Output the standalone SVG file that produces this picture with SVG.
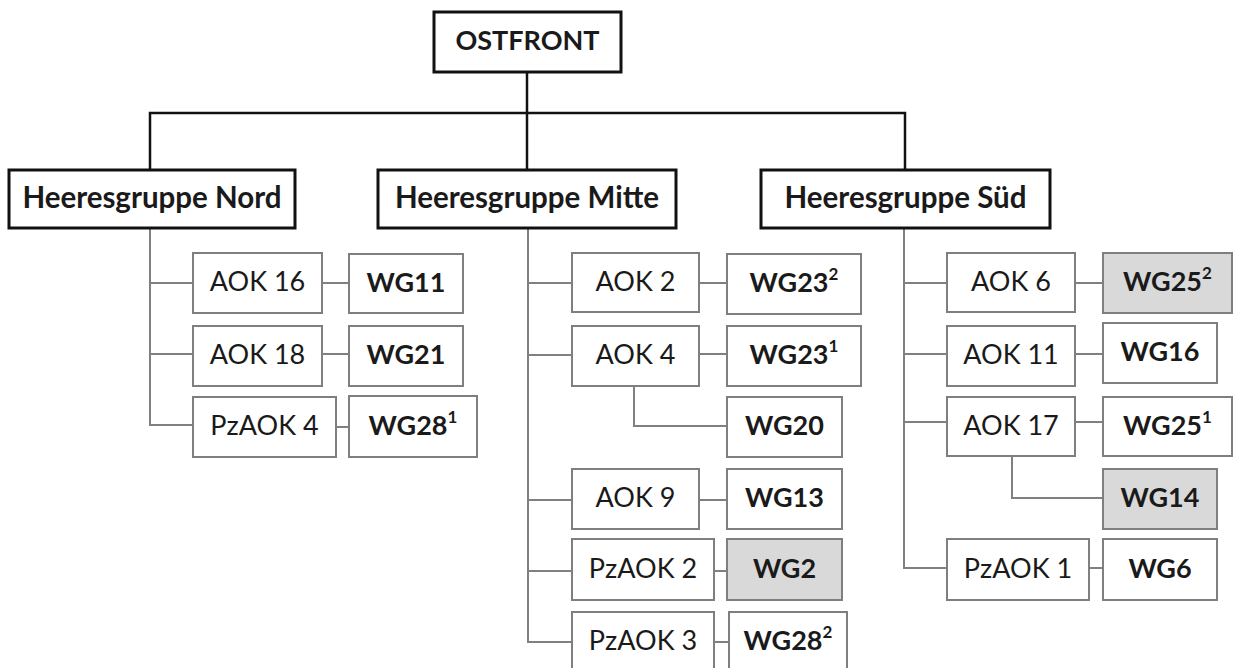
<svg xmlns="http://www.w3.org/2000/svg" width="1236" height="668" viewBox="0 0 1236 668">
<style>
text{font-family:Lato,"Open Sans","Liberation Sans",sans-serif;font-size:27px;fill:#1a1a1a;text-anchor:middle}
.b{font-weight:bold}
.hd{font-size:29.5px}
.h{fill:#fff;stroke:#111;stroke-width:3}
.s{fill:#fff;stroke:#7f7f7f;stroke-width:2}
.g{fill:#d9d9d9;stroke:#7f7f7f;stroke-width:2}
.top{fill:none;stroke:#111;stroke-width:2.5}
.sub{fill:none;stroke:#808080;stroke-width:2}
.sup{font-size:17px}
</style>
<rect width="1236" height="668" fill="#fff"/>
<g id="connectors">
<path class="top" d="M527,72V170M150,170V113H905V170"/>
<path class="sub" d="M150,228V425H193M150,283H193M150,354H193M322,283H349M322,354H349M336,427H349"/>
<path class="sub" d="M528,228V642H572M528,283H572M528,355H572M528,500H572M528,571H572M699,283H727M699,354H727M634,386V426H727M699,500H727M714,571H727M714,642H729"/>
<path class="sub" d="M904,228V568H947M904,283H947M904,354H947M904,422H947M1075,283H1103M1075,354H1103M1075,422H1103M1012,456V498H1103M1089,568H1103"/>
</g>
<g id="ostfront"><rect class="h" x="434" y="12" width="187" height="60"/><text class="b" x="527.5" y="50">OSTFRONT</text></g>
<g id="hg-nord"><rect class="h" x="9" y="170" width="286" height="58"/><text class="b hd" x="152" y="208">Heeresgruppe Nord</text></g>
<g id="hg-mitte"><rect class="h" x="378" y="170" width="298" height="58"/><text class="b hd" x="527" y="208">Heeresgruppe Mitte</text></g>
<g id="hg-sued"><rect class="h" x="761" y="170" width="289" height="58"/><text class="b hd" x="905.5" y="208">Heeresgruppe Süd</text></g>

<g id="aok16"><rect class="s" x="193" y="253" width="129" height="60"/><text x="257.5" y="291">AOK 16</text></g>
<g id="wg11"><rect class="s" x="349" y="254" width="114" height="59"/><text class="b" x="406" y="292">WG11</text></g>
<g id="aok18"><rect class="s" x="193" y="326" width="129" height="60"/><text x="257.5" y="364">AOK 18</text></g>
<g id="wg21"><rect class="s" x="349" y="326" width="114" height="60"/><text class="b" x="406" y="364">WG21</text></g>
<g id="pzaok4"><rect class="s" x="193" y="397" width="143" height="60"/><text x="264.5" y="435">PzAOK 4</text></g>
<g id="wg28-1"><rect class="s" x="349" y="396" width="128" height="61"/><text class="b" x="413" y="435">WG28<tspan class="sup" dy="-12">1</tspan></text></g>

<g id="aok2"><rect class="s" x="572" y="253" width="127" height="59"/><text x="635.5" y="291">AOK 2</text></g>
<g id="wg23-2"><rect class="s" x="727" y="254" width="134" height="60"/><text class="b" x="794" y="292">WG23<tspan class="sup" dy="-12">2</tspan></text></g>
<g id="aok4"><rect class="s" x="572" y="326" width="127" height="60"/><text x="635.5" y="364">AOK 4</text></g>
<g id="wg23-1"><rect class="s" x="727" y="326" width="134" height="60"/><text class="b" x="794" y="364">WG23<tspan class="sup" dy="-12">1</tspan></text></g>
<g id="wg20"><rect class="s" x="727" y="397" width="115" height="60"/><text class="b" x="784.5" y="435">WG20</text></g>
<g id="aok9"><rect class="s" x="572" y="469" width="127" height="60"/><text x="635.5" y="507">AOK 9</text></g>
<g id="wg13"><rect class="s" x="727" y="469" width="115" height="60"/><text class="b" x="784.5" y="507">WG13</text></g>
<g id="pzaok2"><rect class="s" x="572" y="539" width="142" height="61"/><text x="643" y="578">PzAOK 2</text></g>
<g id="wg2"><rect class="g" x="727" y="539" width="115" height="61"/><text class="b" x="784.5" y="578">WG2</text></g>
<g id="pzaok3"><rect class="s" x="572" y="612" width="142" height="62"/><text x="643" y="650">PzAOK 3</text></g>
<g id="wg28-2"><rect class="s" x="729" y="612" width="118" height="62"/><text class="b" x="788" y="650">WG28<tspan class="sup" dy="-12">2</tspan></text></g>

<g id="aok6"><rect class="s" x="947" y="253" width="128" height="59"/><text x="1011" y="291">AOK 6</text></g>
<g id="wg25-2"><rect class="g" x="1103" y="253" width="129" height="60"/><text class="b" x="1167.5" y="291">WG25<tspan class="sup" dy="-12">2</tspan></text></g>
<g id="aok11"><rect class="s" x="947" y="326" width="128" height="60"/><text x="1011" y="364">AOK 11</text></g>
<g id="wg16"><rect class="s" x="1103" y="323" width="114" height="60"/><text class="b" x="1160" y="361">WG16</text></g>
<g id="aok17"><rect class="s" x="947" y="397" width="128" height="59"/><text x="1011" y="435">AOK 17</text></g>
<g id="wg25-1"><rect class="s" x="1103" y="397" width="129" height="59"/><text class="b" x="1167.5" y="435">WG25<tspan class="sup" dy="-12">1</tspan></text></g>
<g id="wg14"><rect class="g" x="1103" y="469" width="114" height="60"/><text class="b" x="1160" y="507">WG14</text></g>
<g id="pzaok1"><rect class="s" x="947" y="539" width="142" height="61"/><text x="1018" y="578">PzAOK 1</text></g>
<g id="wg6"><rect class="s" x="1103" y="539" width="114" height="61"/><text class="b" x="1160" y="578">WG6</text></g>
</svg>
